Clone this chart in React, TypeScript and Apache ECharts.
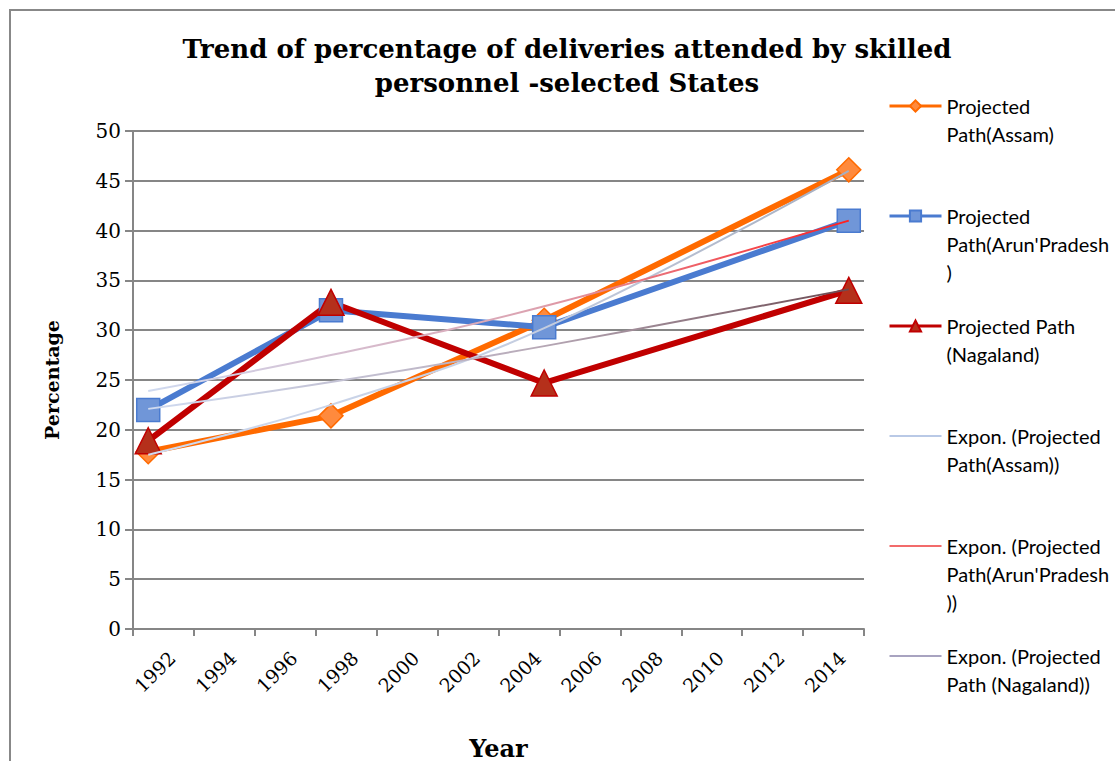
import React, { useEffect, useRef } from "react";
import * as echarts from "echarts";

const years = [
  "1992", "1993", "1994", "1995", "1996", "1997", "1998", "1999",
  "2000", "2001", "2002", "2003", "2004", "2005", "2006", "2007",
  "2008", "2009", "2010", "2011", "2012", "2013", "2014", "2015",
];
const surveyYears = ["1992", "1998", "2005", "2015"];
const assam = [17.8, 21.4, 31.0, 46.1];
const arunachal = [22.0, 32.0, 30.3, 41.0];
const nagaland = [18.9, 32.8, 24.7, 34.0];
const assamTrend = [17.5, 22.5, 30.2, 46.0];
const arunachalTrend = [23.9, 27.5, 32.4, 41.0];
const nagalandTrend = [22.1, 24.8, 28.4, 34.1];

const seriesNames = [
  "Projected Path(Assam)",
  "Projected Path(Arun'Pradesh)",
  "Projected Path (Nagaland)",
  "Expon. (Projected Path(Assam))",
  "Expon. (Projected Path(Arun'Pradesh))",
  "Expon. (Projected Path (Nagaland))",
];
const legendLines: string[][] = [
  ["Projected", "Path(Assam)"],
  ["Projected", "Path(Arun'Pradesh", ")"],
  ["Projected Path", "(Nagaland)"],
  ["Expon. (Projected", "Path(Assam))"],
  ["Expon. (Projected", "Path(Arun'Pradesh", "))"],
  ["Expon. (Projected", "Path (Nagaland))"],
];

const SERIF = "'DejaVu Serif', serif";
const SANS = "Lato, 'Open Sans', sans-serif";

function pairs(vals: number[]) {
  return surveyYears.map((y, i) => [y, vals[i]]);
}

function grad(c0: string, c1: string, c2: string) {
  return new echarts.graphic.LinearGradient(0, 0, 1, 0, [
    { offset: 0, color: c0 },
    { offset: 0.55, color: c1 },
    { offset: 1, color: c2 },
  ]);
}

export default function App() {
  const ref = useRef<HTMLDivElement>(null);
  useEffect(() => {
    if (!ref.current) return;
    const chart = echarts.init(ref.current, null, { renderer: "svg" });
    const legendText = (name: string) => {
      const idx = seriesNames.indexOf(name);
      const lines = legendLines[idx] || [name];
      const out = [" ", " ", ...lines];
      while (out.length < 5) out.push(" ");
      return out.join("\n");
    };
    const mainLine = (
      name: string,
      vals: number[],
      color: string,
      fill: string,
      symbol: string,
      size: number
    ) => ({
      name,
      type: "line",
      data: pairs(vals),
      symbol,
      symbolSize: size,
      showAllSymbol: true,
      lineStyle: { color, width: 6 },
      itemStyle: { color: fill, borderColor: color, borderWidth: 1.5 },
      z: 2,
    });
    const trendLine = (name: string, vals: number[], color: any) => ({
      name,
      type: "line",
      data: pairs(vals),
      smooth: 0.4,
      symbol: "none",
      lineStyle: { color, width: 2 },
      itemStyle: { color },
      z: 3,
    });
    const trendLegend = (name: string, color: string) => ({
      name,
      lineStyle: { width: 2, color },
      itemStyle: { color, opacity: 0 },
    });
    chart.setOption({
      animation: false,
      backgroundColor: "#ffffff",
      title: {
        text: "Trend of percentage of deliveries attended by skilled\npersonnel -selected States",
        left: 562,
        top: 27,
        textAlign: "center",
        textStyle: {
          fontFamily: SERIF,
          fontWeight: "bold",
          fontSize: 26,
          lineHeight: 34,
          color: "#000",
        },
      },
      legend: {
        orient: "vertical",
        left: 888,
        top: 36,
        padding: 0,
        itemGap: -30,
        itemWidth: 52,
        itemHeight: 14,
        formatter: legendText,
        textStyle: {
          fontFamily: SANS,
          fontSize: 20,
          lineHeight: 28,
          color: "#000",
        },
        data: [
          { name: seriesNames[0], lineStyle: { width: 3, color: "#ff6a00" } },
          { name: seriesNames[1], lineStyle: { width: 3, color: "#4a7bd0" } },
          { name: seriesNames[2], lineStyle: { width: 3, color: "#c00000" } },
          trendLegend(seriesNames[3], "#b9c9e6"),
          trendLegend(seriesNames[4], "#f26b6b"),
          trendLegend(seriesNames[5], "#a8a3c0"),
        ],
      },
      graphic: [
        {
          type: "rect",
          shape: { x: 10, y: 10, width: 1130, height: 780 },
          style: { fill: "none", stroke: "#888888", lineWidth: 2 },
          silent: true,
          z: -10,
        },
      ],
      grid: {
        left: 133,
        right: 251,
        top: 131,
        bottom: 132,
        containLabel: false,
        outerBoundsMode: "none",
      },
      xAxis: {
        type: "category",
        data: years,
        boundaryGap: true,
        name: "Year",
        nameLocation: "middle",
        nameGap: 107,
        nameMoveOverlap: false,
        nameTextStyle: {
          fontFamily: SERIF,
          fontWeight: "bold",
          fontSize: 24,
          color: "#000",
        },
        axisLine: { lineStyle: { color: "#868686", width: 2 } },
        axisTick: { show: true, interval: 1, length: 7, lineStyle: { color: "#868686", width: 2 } },
        axisLabel: {
          interval: 1,
          rotate: 45,
          align: "center",
          verticalAlign: "top",
          margin: 36,
          fontFamily: SERIF,
          fontSize: 19,
          color: "#000",
        },
        splitLine: { show: false },
      },
      yAxis: {
        type: "value",
        min: 0,
        max: 50,
        interval: 5,
        name: "Percentage",
        nameLocation: "middle",
        nameGap: 72,
        nameMoveOverlap: false,
        nameTextStyle: {
          fontFamily: SERIF,
          fontWeight: "bold",
          fontSize: 19,
          color: "#000",
        },
        axisLine: { show: true, lineStyle: { color: "#868686", width: 2 } },
        axisTick: { show: true, length: 8, lineStyle: { color: "#868686", width: 2 } },
        axisLabel: {
          margin: 12,
          fontFamily: SERIF,
          fontSize: 20,
          color: "#000",
        },
        splitLine: { show: true, lineStyle: { color: "#868686", width: 2 } },
      },
      series: [
        mainLine(seriesNames[0], assam, "#ff6a00", "#ff8a3d", "diamond", 24),
        mainLine(seriesNames[1], arunachal, "#4a7bd0", "#7096d8", "rect", 23),
        mainLine(seriesNames[2], nagaland, "#c00000", "#b5301b", "triangle", 26),
        trendLine(seriesNames[3], assamTrend, grad("#cfdaf0", "#c4cde0", "#a6aec0")),
        trendLine(seriesNames[4], arunachalTrend, grad("#cfdaf0", "#dca2b0", "#ff2020")),
        trendLine(seriesNames[5], nagalandTrend, grad("#cfdaf0", "#b8aab8", "#6b4a52")),
      ],
    });
    return () => chart.dispose();
  }, []);
  return (
    <div
      ref={ref}
      style={{ position: "absolute", left: 0, top: 0, width: 1115, height: 761, background: "#fff" }}
    />
  );
}
